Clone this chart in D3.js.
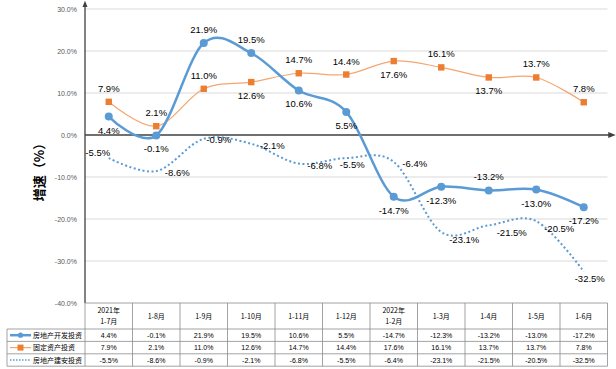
<!DOCTYPE html>
<html><head><meta charset="utf-8">
<script src="https://cdn.jsdelivr.net/npm/d3@7"></script>
<style>body{margin:0;background:#fff}svg{display:block}</style>
</head><body>
<svg id="c" width="616" height="369"></svg>
<script>
const categories = ["2021年\n1-7月","1-8月","1-9月","1-10月","1-11月","1-12月","2022年\n1-2月","1-3月","1-4月","1-5月","1-6月"];
const seriesNames = ["房地产开发投资","固定资产投资","房地产建安投资"];
const devInvest = [4.4,-0.1,21.9,19.5,10.6,5.5,-14.7,-12.3,-13.2,-13.0,-17.2];
const fixedInvest = [7.9,2.1,11.0,12.6,14.7,14.4,17.6,16.1,13.7,13.7,7.8];
const buildInvest = [-5.5,-8.6,-0.9,-2.1,-6.8,-5.5,-6.4,-23.1,-21.5,-20.5,-32.5];
const yTicks = [30,20,10,0,-10,-20,-30,-40];
// label placement keywords
const devPos = ["below","below","above","above","below","below","below","below","above","below","below"];
const fixedPos = ["above","above","above","below","above","above","below","above","below","above","above"];
const buildPos = ["left","right","rightnear","right","right","near","right","rightdown","rightdown","rightdown","near"];

const svg = d3.select("#c");
const L = 85, R = 607.5, T = 9, B = 303;
const x = d3.scaleBand().domain(categories).range([L, R]);
const y = d3.scaleLinear().domain([-40, 30]).range([B, T]);
const cx = c => x(c) + x.bandwidth() / 2;
const fmt = v => v.toFixed(1) + "%";
const font = "'Liberation Sans', Arial, sans-serif";

const defs = svg.append("defs");
defs.append("marker").attr("id","arr").attr("viewBox","0 0 10 10").attr("refX",5).attr("refY",5)
  .attr("markerWidth",5).attr("markerHeight",5).attr("orient","auto-start-reverse")
  .append("path").attr("d","M0,1 L10,5 L0,9 z").attr("fill","#404040");

// gridlines
svg.append("g").selectAll("line").data(yTicks.filter(d => d !== 0 && d !== -40)).join("line")
  .attr("x1", L).attr("x2", R).attr("y1", d => y(d)).attr("y2", d => y(d))
  .attr("stroke", "#d9d9d9").attr("stroke-width", 1);

// y tick labels
const ya = svg.append("g").attr("transform", `translate(${L - 5},0)`)
  .call(d3.axisLeft(y).tickValues(yTicks).tickSize(0).tickFormat(d => d.toFixed(1) + "%"));
ya.select(".domain").remove();
ya.selectAll("text").attr("fill", "#595959").style("font-family", font).style("font-size", "7px");

// axes lines
svg.append("line").attr("x1", L).attr("x2", L).attr("y1", B).attr("y2", T - 5)
  .attr("stroke", "#404040").attr("stroke-width", 1.3).attr("marker-end", "url(#arr)");
svg.append("line").attr("x1", L).attr("x2", 612).attr("y1", y(0)).attr("y2", y(0))
  .attr("stroke", "#404040").attr("stroke-width", 1.5).attr("marker-end", "url(#arr)");

// y title
svg.append("text").attr("transform", "translate(44,169) rotate(-90)").attr("text-anchor", "middle")
  .style("font-family", "'Noto Sans CJK SC', sans-serif").style("font-size", "13px").style("font-weight", "bold")
  .text("增速（%）");

const curve = d3.curveCardinal.tension(0);
const line = vals => d3.line().x((d, i) => cx(categories[i])).y(d => y(d)).curve(curve)(vals);

const blue = "#5b9bd5", orange = "#ed7d31";
svg.append("path").attr("d", line(buildInvest)).attr("fill", "none").attr("stroke", blue)
  .attr("stroke-width", 2).attr("stroke-dasharray", "2,2.5");
svg.append("path").attr("d", line(fixedInvest)).attr("fill", "none").attr("stroke", "#f4a66f").attr("stroke-width", 1.2);
svg.append("path").attr("d", line(devInvest)).attr("fill", "none").attr("stroke", blue).attr("stroke-width", 2.5);

svg.append("g").selectAll("rect").data(fixedInvest).join("rect")
  .attr("x", (d, i) => cx(categories[i]) - 3.2).attr("y", d => y(d) - 3.2)
  .attr("width", 6.4).attr("height", 6.4).attr("fill", orange);
svg.append("g").selectAll("circle").data(devInvest).join("circle")
  .attr("cx", (d, i) => cx(categories[i])).attr("cy", d => y(d)).attr("r", 4).attr("fill", blue);

// data labels
const off = {above:[0,-10], below:[0,17], left:[-11,-2], right:[21,5], rightnear:[15,4],
             rightdown:[23,11], near:[6,10]};
function labels(vals, pos) {
  svg.append("g").selectAll("text").data(vals).join("text")
    .attr("x", (d, i) => cx(categories[i]) + off[pos[i]][0])
    .attr("y", (d, i) => y(d) + off[pos[i]][1])
    .attr("text-anchor", "middle").attr("fill", "#000")
    .style("font-family", font).style("font-size", "9.5px")
    .text(d => fmt(d));
}
labels(devInvest, devPos);
labels(fixedInvest, fixedPos);
labels(buildInvest, buildPos);

// data table
const tL = 7, hTop = B, r1 = 329, rH = 12.4;
const tg = svg.append("g");
const gridC = "#8c8c8c";
const bounds = categories.map(c => x(c)).concat([R]);
bounds.forEach(bx => tg.append("line").attr("x1", bx).attr("x2", bx).attr("y1", hTop).attr("y2", r1 + 3 * rH).attr("stroke", gridC).attr("stroke-width", 0.8));
tg.append("line").attr("x1", tL).attr("x2", tL).attr("y1", r1).attr("y2", r1 + 3 * rH).attr("stroke", gridC).attr("stroke-width", 0.8);
tg.append("line").attr("x1", L).attr("x2", R).attr("y1", hTop).attr("y2", hTop).attr("stroke", gridC).attr("stroke-width", 0.8);
[0,1,2,3].forEach(k => tg.append("line").attr("x1", tL).attr("x2", R).attr("y1", r1 + k * rH).attr("y2", r1 + k * rH).attr("stroke", gridC).attr("stroke-width", 0.8));

const tf = "'Noto Sans CJK SC', sans-serif";
categories.forEach(c => {
  const parts = c.split("\n");
  const t = tg.append("text").attr("text-anchor", "middle").style("font-family", tf).style("font-size", "7px").attr("fill", "#000");
  if (parts.length === 2) {
    t.append("tspan").attr("x", cx(c)).attr("y", 313).text(parts[0]);
    t.append("tspan").attr("x", cx(c)).attr("y", 324).text(parts[1]);
  } else {
    t.attr("x", cx(c)).attr("y", 319).text(parts[0]);
  }
});
[devInvest, fixedInvest, buildInvest].forEach((vals, k) => {
  tg.append("g").selectAll("text").data(vals).join("text")
    .attr("x", (d, i) => cx(categories[i])).attr("y", r1 + k * rH + 9)
    .attr("text-anchor", "middle").style("font-family", font).style("font-size", "7px").attr("fill", "#000")
    .text(d => fmt(d));
  const ly = r1 + k * rH + rH / 2;
  if (k === 0) {
    tg.append("line").attr("x1", 10).attr("x2", 31).attr("y1", ly).attr("y2", ly).attr("stroke", blue).attr("stroke-width", 2.5);
    tg.append("circle").attr("cx", 20.5).attr("cy", ly).attr("r", 2.6).attr("fill", blue);
  } else if (k === 1) {
    tg.append("line").attr("x1", 10).attr("x2", 31).attr("y1", ly).attr("y2", ly).attr("stroke", "#f4a66f").attr("stroke-width", 1.2);
    tg.append("rect").attr("x", 17.5).attr("y", ly - 3).attr("width", 6).attr("height", 6).attr("fill", orange);
  } else {
    tg.append("line").attr("x1", 10).attr("x2", 31).attr("y1", ly).attr("y2", ly).attr("stroke", blue).attr("stroke-width", 1.5).attr("stroke-dasharray", "1.5,1.5");
  }
  tg.append("text").attr("x", 33).attr("y", ly + 2.5).style("font-family", tf).style("font-size", "7px").attr("fill", "#000").text(seriesNames[k]);
});
</script>
</body></html>
